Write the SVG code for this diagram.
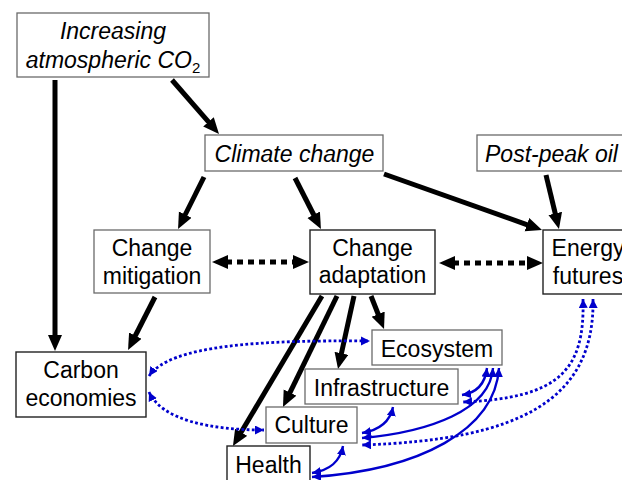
<svg xmlns="http://www.w3.org/2000/svg" width="622" height="480" viewBox="0 0 622 480">
<style>
.box{fill:#fff;stroke:#6a6a6a;stroke-width:1.3}
.box.dk{stroke:#222;stroke-width:1.4}
text{font-family:"Liberation Sans",Arial,sans-serif;font-size:23px;fill:#000;text-anchor:middle}
.it{font-style:italic}
.blk{stroke:#000;stroke-width:5;fill:none;marker-end:url(#ah)}
.dsh{stroke:#000;stroke-width:5;fill:none;stroke-dasharray:6 5;marker-start:url(#ah);marker-end:url(#ah)}
.bs{stroke:#0000cc;stroke-width:2.4;fill:none;marker-start:url(#bh);marker-end:url(#bh)}
.bd{stroke:#0000cc;stroke-width:2.8;fill:none;stroke-dasharray:2.8 2.4;marker-start:url(#bh);marker-end:url(#bh)}
</style>
<defs>
<marker id="ah" markerUnits="userSpaceOnUse" markerWidth="18" markerHeight="16" refX="2" refY="7" orient="auto-start-reverse">
<path d="M0,0 L16,7 L0,14 z" fill="#000"/>
</marker>
<marker id="bh" markerUnits="userSpaceOnUse" markerWidth="11" markerHeight="10" refX="9" refY="4.5" orient="auto-start-reverse">
<path d="M0,0 L9,4.5 L0,9 z" fill="#0000cc"/>
</marker>
</defs>
<rect width="622" height="480" fill="#fff"/>

<g id="connectors">
<line class="blk" x1="55" y1="80" x2="55" y2="337"/>
<line class="blk" x1="172" y1="80" x2="209.8" y2="123.4"/>
<line class="blk" x1="204" y1="177" x2="184.3" y2="216.5"/>
<line class="blk" x1="295" y1="178" x2="314.6" y2="216.5"/>
<line class="blk" x1="384" y1="174" x2="528.8" y2="225.3"/>
<line class="blk" x1="546" y1="175" x2="555.7" y2="215.4"/>
<line class="blk" x1="155" y1="297" x2="134.4" y2="337.5"/>
<line class="blk" x1="322" y1="296" x2="240.1" y2="434"/>
<line class="blk" x1="337" y1="296" x2="289.1" y2="394.4"/>
<line class="blk" x1="354" y1="296" x2="341" y2="355.3"/>
<line class="blk" x1="371" y1="296" x2="378.9" y2="316"/>
<line class="dsh" x1="226" y1="262" x2="295" y2="262"/>
<line class="dsh" x1="453" y1="263" x2="529" y2="263"/>
<path class="bd" d="M149,376 C170,345 260,340 370,341"/>
<path class="bd" d="M149,392 C162,420 210,430 264,430"/>
<path class="bd" d="M583,299 C585,370 560,398 463,402"/>
<path class="bd" d="M593,299 C595,400 520,440 362,445"/>
<path class="bs" d="M487,368 C485,385 475,393 462,395"/>
<path class="bs" d="M493,368 C490,410 430,432 362,438"/>
<path class="bs" d="M499,368 C495,430 420,470 312,477"/>
<path class="bs" d="M393,407 C390,422 380,430 362,433"/>
<path class="bs" d="M343,446 C340,462 330,470 312,473"/>
</g>

<g id="co2">
<rect class="box" x="17" y="13" width="192" height="64"/>
<text class="it" x="113" y="39">Increasing</text>
<text class="it" x="113" y="68">atmospheric CO<tspan font-size="15" font-style="normal" dy="5">2</tspan></text>
</g>
<g id="climate">
<rect class="box" x="205" y="135" width="178" height="36"/>
<text class="it" x="294.5" y="162">Climate change</text>
</g>
<g id="postpeak">
<rect class="box" x="477" y="135" width="170" height="36"/>
<text class="it" x="485" y="162" style="text-anchor:start">Post-peak oil</text>
</g>
<g id="mitigation">
<rect class="box" x="94" y="230" width="116" height="63"/>
<text x="152" y="256">Change</text>
<text x="152" y="284">mitigation</text>
</g>
<g id="adaptation">
<rect class="box dk" x="310" y="230" width="125" height="64"/>
<text x="372.5" y="256">Change</text>
<text x="372.5" y="283">adaptation</text>
</g>
<g id="energy">
<rect class="box dk" x="543" y="230" width="90" height="64"/>
<text x="588" y="256">Energy</text>
<text x="588" y="284">futures</text>
</g>
<g id="carbon">
<rect class="box dk" x="16" y="352" width="130" height="65"/>
<text x="81" y="378">Carbon</text>
<text x="81" y="406">economies</text>
</g>
<g id="ecosystem">
<rect class="box" x="372" y="330" width="130" height="35"/>
<text x="437" y="357">Ecosystem</text>
</g>
<g id="infrastructure">
<rect class="box" x="305" y="369" width="153" height="35"/>
<text x="381.5" y="396" font-size="22.5">Infrastructure</text>
</g>
<g id="culture">
<rect class="box" x="266" y="407" width="91" height="36"/>
<text x="311.5" y="433">Culture</text>
</g>
<g id="health">
<rect class="box dk" x="227" y="446" width="83" height="44"/>
<text x="268.5" y="473">Health</text>
</g>
</svg>
